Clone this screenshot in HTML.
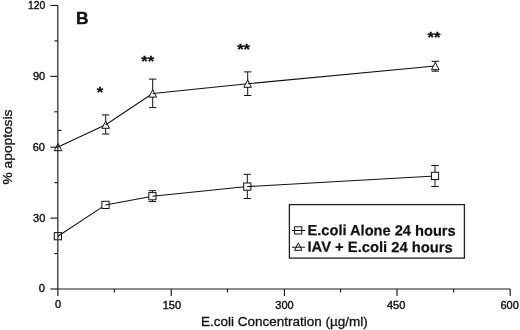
<!DOCTYPE html>
<html><head><meta charset="utf-8"><title>Figure B</title>
<style>html,body{margin:0;padding:0;background:#fff}svg{display:block}</style></head>
<body>
<svg width="520" height="330" viewBox="0 0 520 330">
<rect width="520" height="330" fill="#fff"/>
<path d="M58.0 143.5 L61.8 150.7 H54.2 Z" fill="#fff" stroke="#111" stroke-width="1"/>
<path d="M58.0 147.1 L105.7 124.7" stroke="#111" stroke-width="1.05" fill="none"/>
<path d="M105.7 114.9 V134.0 M102.0 114.9 h7.4 M102.0 134.0 h7.4" stroke="#111" stroke-width="1" fill="none"/>
<path d="M105.7 121.1 L109.5 128.3 H101.9 Z" fill="#fff" stroke="#111" stroke-width="1"/>
<path d="M105.7 124.7 L152.7 93.5" stroke="#111" stroke-width="1.05" fill="none"/>
<path d="M152.7 79.1 V107.6 M149.0 79.1 h7.4 M149.0 107.6 h7.4" stroke="#111" stroke-width="1" fill="none"/>
<path d="M152.7 89.9 L156.5 97.1 H148.9 Z" fill="#fff" stroke="#111" stroke-width="1"/>
<path d="M152.7 93.5 L247.7 83.7" stroke="#111" stroke-width="1.05" fill="none"/>
<path d="M247.7 71.9 V95.5 M244.0 71.9 h7.4 M244.0 95.5 h7.4" stroke="#111" stroke-width="1" fill="none"/>
<path d="M247.7 80.1 L251.5 87.3 H243.9 Z" fill="#fff" stroke="#111" stroke-width="1"/>
<path d="M247.7 83.7 L435.3 66.1" stroke="#111" stroke-width="1.05" fill="none"/>
<path d="M435.3 61.3 V71.2 M431.6 61.3 h7.4 M431.6 71.2 h7.4" stroke="#111" stroke-width="1" fill="none"/>
<path d="M435.3 62.5 L439.1 69.7 H431.5 Z" fill="#fff" stroke="#111" stroke-width="1"/>
<rect x="54.3" y="232.6" width="7.2" height="7.2" fill="#fff" stroke="#111" stroke-width="1"/>
<path d="M57.9 236.2 L105.5 204.9" stroke="#111" stroke-width="1.05" fill="none"/>
<rect x="101.9" y="201.3" width="7.2" height="7.2" fill="#fff" stroke="#111" stroke-width="1"/>
<path d="M105.5 204.9 L152.4 196.2" stroke="#111" stroke-width="1.05" fill="none"/>
<path d="M152.4 190.7 V201.6 M148.7 190.7 h7.4 M148.7 201.6 h7.4" stroke="#111" stroke-width="1" fill="none"/>
<rect x="148.8" y="192.6" width="7.2" height="7.2" fill="#fff" stroke="#111" stroke-width="1"/>
<path d="M152.4 196.2 L247.3 186.6" stroke="#111" stroke-width="1.05" fill="none"/>
<path d="M247.3 174.3 V198.5 M243.6 174.3 h7.4 M243.6 198.5 h7.4" stroke="#111" stroke-width="1" fill="none"/>
<rect x="243.7" y="183.0" width="7.2" height="7.2" fill="#fff" stroke="#111" stroke-width="1"/>
<path d="M247.3 186.6 L435.0 175.9" stroke="#111" stroke-width="1.05" fill="none"/>
<path d="M435.0 165.5 V186.5 M431.3 165.5 h7.4 M431.3 186.5 h7.4" stroke="#111" stroke-width="1" fill="none"/>
<rect x="431.4" y="172.3" width="7.2" height="7.2" fill="#fff" stroke="#111" stroke-width="1"/>
<g stroke="#1a1a1a" stroke-width="1.15" fill="none">
<path d="M57.85 5.45 V289.0 H510.2"/>
<path d="M50.4 289.00 H57.85"/>
<path d="M54.4 253.56 H57.85"/>
<path d="M50.4 218.11 H57.85"/>
<path d="M54.4 182.67 H57.85"/>
<path d="M50.4 147.22 H57.85"/>
<path d="M54.4 111.78 H57.85"/>
<path d="M50.4 76.34 H57.85"/>
<path d="M54.4 40.89 H57.85"/>
<path d="M50.4 5.45 H57.85"/>
<path d="M57.85 289.0 v7"/>
<path d="M114.39 289.0 v3.5"/>
<path d="M171.20 289.0 v7"/>
<path d="M227.48 289.0 v3.5"/>
<path d="M284.45 289.0 v7"/>
<path d="M340.57 289.0 v3.5"/>
<path d="M397.00 289.0 v7"/>
<path d="M453.66 289.0 v3.5"/>
<path d="M510.20 289.0 v7"/>
<path d="M58 130.4 h3.4"/>
</g>
<rect x="289.4" y="204.6" width="175" height="53.5" fill="#fff" stroke="#222" stroke-width="1.3"/>
<rect x="294.6" y="226.8" width="7.2" height="7.2" fill="#fff" stroke="#111" stroke-width="1"/>
<path d="M298.3 242.9 L302 250.3 H294.6 Z" fill="#fff" stroke="#111" stroke-width="1"/>
<path d="M292 230.5 h13 M292 247.2 h13" stroke="#111" stroke-width="1"/>
<g font-family="'Liberation Sans', sans-serif" fill="#111">
<g font-weight="bold" font-size="14.8px" stroke="#111" stroke-width="0.2">
<text x="307.5" y="235.2" transform="rotate(0.25 308 235)" textLength="148.2" lengthAdjust="spacingAndGlyphs">E.coli Alone 24 hours</text>
<text x="307.5" y="251.8" transform="rotate(0.25 308 251)" textLength="145.2" lengthAdjust="spacingAndGlyphs">IAV + E.coli 24 hours</text>
<text x="75.9" y="23.9" font-size="17.4px" stroke="#111" stroke-width="0.4">B</text>
</g>
<g font-weight="bold" font-size="14.5px" stroke="#111" stroke-width="0.3" stroke-linejoin="round">
<text x="96.78" y="97.10" textLength="6.5" lengthAdjust="spacingAndGlyphs">*</text>
<text x="141.35" y="66.30" textLength="12.9" lengthAdjust="spacingAndGlyphs">**</text>
<text x="237.15" y="53.50" textLength="12.9" lengthAdjust="spacingAndGlyphs">**</text>
<text x="427.45" y="42.20" textLength="12.9" lengthAdjust="spacingAndGlyphs">**</text>
</g>
<g font-size="11px" text-anchor="end" stroke="#111" stroke-width="0.4">
<text x="44.8" y="292.2">0</text>
<text x="45.3" y="221.5">30</text>
<text x="45.0" y="151.3">60</text>
<text x="45.2" y="80.4">90</text>
<text x="45.2" y="9.0" textLength="17.3" lengthAdjust="spacingAndGlyphs">120</text>
</g>
<g font-size="11px" text-anchor="middle" stroke="#111" stroke-width="0.4">
<text x="58.0" y="308.1">0</text>
<text x="171.9" y="308.7">150</text>
<text x="284.5" y="308.7">300</text>
<text x="396.1" y="308.7">450</text>
<text x="509.6" y="308.6">600</text>
</g>
<text x="201" y="326.3" font-size="13.5px" textLength="166.8" lengthAdjust="spacingAndGlyphs" stroke="#111" stroke-width="0.3">E.coli Concentration (µg/ml)</text>
<text transform="translate(12.3 184.4) rotate(-90)" font-size="13px" textLength="74.8" lengthAdjust="spacingAndGlyphs" stroke="#111" stroke-width="0.3">% apoptosis</text>
</g>
</svg>
</body></html>
